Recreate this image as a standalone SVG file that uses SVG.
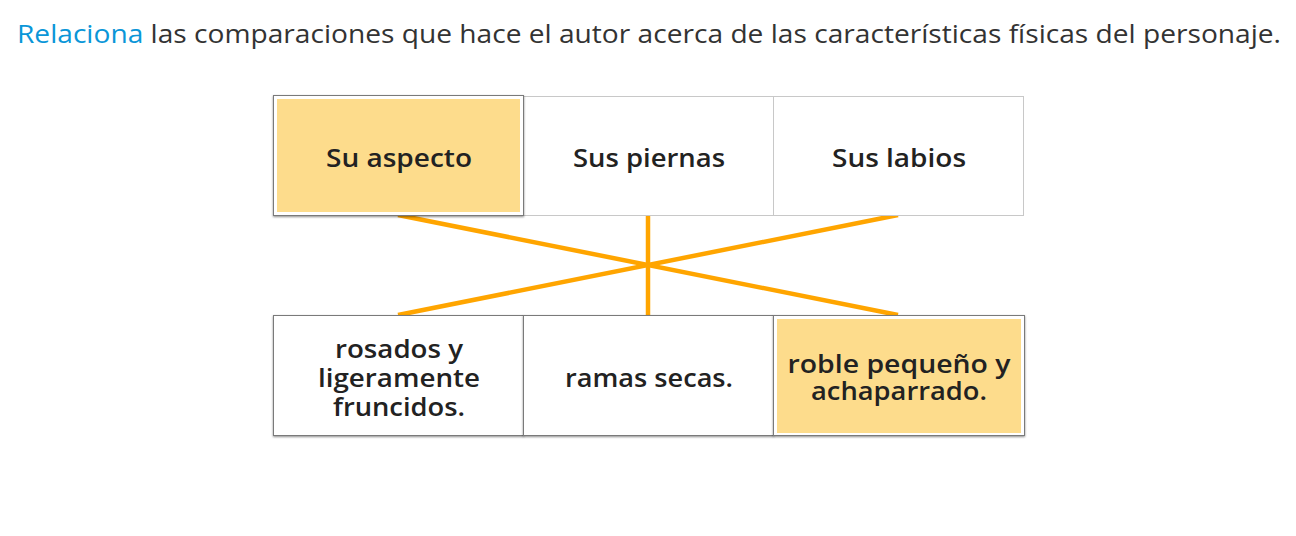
<svg xmlns="http://www.w3.org/2000/svg" width="1296" height="536" viewBox="0 0 1296 536">
<defs>
<style>
.t{font-family:"Open Sans","Noto Sans","Liberation Sans",sans-serif;font-size:26px;fill:#333;}
.b{fill:#1a75bf;}
.lab{font-family:"Open Sans","Noto Sans","Liberation Sans",sans-serif;font-size:26px;font-weight:600;fill:#222;text-anchor:middle;}
.cell{fill:#fff;stroke:#c8c8c8;stroke-width:1;}
.cellB{fill:#fff;stroke:#7a7a7a;stroke-width:1;}
.sel{fill:#fddc8c;}
.con{stroke:#ffa500;stroke-width:4.5;fill:none;}
</style>
<filter id="sh" x="-5%" y="-5%" width="110%" height="110%">
<feDropShadow dx="0" dy="1" stdDeviation="1" flood-color="#000" flood-opacity="0.45"/>
</filter>
</defs>
<rect width="1296" height="536" fill="#fff"/>
<text class="t" x="17" y="43" textLength="1264" lengthAdjust="spacingAndGlyphs"><tspan fill="#0a96d8">Relaciona</tspan> las comparaciones que hace el autor acerca de las características físicas del personaje.</text>

<g id="connectors">
<line class="con" x1="398" y1="215" x2="898" y2="315"/>
<line class="con" x1="898" y1="215" x2="398" y2="315"/>
<line class="con" x1="648" y1="215" x2="648" y2="315"/>
</g>

<g id="top-2">
<rect class="cell" x="523.5" y="96.5" width="250" height="119"/>
<text class="lab" x="649" y="167" textLength="152" lengthAdjust="spacingAndGlyphs">Sus piernas</text>
</g>
<g id="top-3">
<rect class="cell" x="773.5" y="96.5" width="250" height="119"/>
<text class="lab" x="899" y="167" textLength="134" lengthAdjust="spacingAndGlyphs">Sus labios</text>
</g>
<g id="top-1">
<rect class="cellB" x="273.5" y="95.5" width="250" height="120" filter="url(#sh)"/>
<rect class="sel" x="277" y="99" width="243" height="113"/>
<text class="lab" x="399" y="167" textLength="146" lengthAdjust="spacingAndGlyphs">Su aspecto</text>
</g>

<g id="bottom-1">
<rect class="cellB" x="273.5" y="315.5" width="250" height="120" filter="url(#sh)"/>
<text class="lab" x="399" y="358" textLength="128" lengthAdjust="spacingAndGlyphs">rosados y</text>
<text class="lab" x="399" y="387" textLength="162" lengthAdjust="spacingAndGlyphs">ligeramente</text>
<text class="lab" x="399" y="416" textLength="132" lengthAdjust="spacingAndGlyphs">fruncidos.</text>
</g>
<g id="bottom-2">
<rect class="cellB" x="523.5" y="315.5" width="250" height="120" filter="url(#sh)"/>
<text class="lab" x="649" y="387" textLength="168" lengthAdjust="spacingAndGlyphs">ramas secas.</text>
</g>
<g id="bottom-3">
<rect class="cellB" x="773.5" y="315.5" width="251" height="120" filter="url(#sh)"/>
<rect class="sel" x="777" y="319" width="244" height="114"/>
<text class="lab" x="899" y="373" textLength="223" lengthAdjust="spacingAndGlyphs">roble pequeño y</text>
<text class="lab" x="899" y="400" textLength="176" lengthAdjust="spacingAndGlyphs">achaparrado.</text>
</g>
</svg>
